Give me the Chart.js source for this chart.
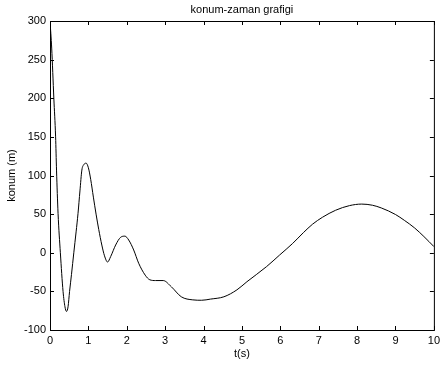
<!DOCTYPE html>
<html>
<head>
<meta charset="utf-8">
<script src="https://cdn.jsdelivr.net/npm/chart.js@4/dist/chart.umd.min.js"></script>
<style>
html,body{margin:0;padding:0;background:#fff;}
#wrap{width:444px;height:369px;}
</style>
</head>
<body>
<div id="wrap"><canvas id="c" width="444" height="369"></canvas></div>
<script>
// konum-zaman values
const tVals=[0,0.044,0.10,0.146,0.17,0.21,0.27,0.34,0.39,0.43,0.47,0.51,0.56,0.62,0.68,0.73,0.78,0.83,0.88,0.94,1.0,1.06,1.13,1.2,1.27,1.35,1.42,1.5,1.58,1.71,1.84,1.95,2.05,2.18,2.31,2.48,2.6,2.75,2.95,3.16,3.42,3.72,3.95,4.18,4.53,4.87,5.13,5.64,5.98,6.32,6.6,6.84,7.1,7.44,7.8,8.12,8.4,8.63,9.0,9.23,9.5,9.74,10];
const konum=[300,265,200,150,107,51,0,-50,-70,-76,-70,-50,-28,0,27,51,80,107,114,116,110,95,72,50,30,10,-4,-12,-5,10,20,21.5,16.5,3.6,-13.6,-29,-35,-36,-36,-44,-57,-61,-61.5,-60,-57,-48,-37.5,-18,-3,12,26,37,46,55,61,63,61.5,58,49.5,42,32,21,8];
const xTicks=[0,1,2,3,4,5,6,7,8,9,10];
const yTicks=[-100,-50,0,50,100,150,200,250,300];

const FONT="Arial, 'Liberation Sans', sans-serif";

// box + inward ticks like the original figure
const boxPlugin={
  id:'box',
  afterDraw(ch){
    const {ctx,chartArea:a,scales:{x,y}}=ch;
    ctx.save();
    ctx.strokeStyle='#000';ctx.lineWidth=1;
    ctx.strokeRect(a.left+0.5,a.top+0.5,a.right-a.left,a.bottom-a.top);
    ctx.beginPath();
    xTicks.forEach(v=>{
      const px=Math.round(x.getPixelForValue(v))+0.5;
      ctx.moveTo(px,a.bottom);ctx.lineTo(px,a.bottom-4);
      ctx.moveTo(px,a.top);ctx.lineTo(px,a.top+4);
    });
    yTicks.forEach(v=>{
      const py=Math.round(y.getPixelForValue(v))+0.5;
      ctx.moveTo(a.left,py);ctx.lineTo(a.left+4,py);
      ctx.moveTo(a.right,py);ctx.lineTo(a.right-4,py);
    });
    ctx.stroke();
    ctx.fillStyle='#000';
    ctx.font='11px '+FONT;
    ctx.textAlign='center';ctx.textBaseline='middle';
    ctx.fillText('konum-zaman grafigi',(a.left+a.right)/2,10);
    ctx.restore();
  }
};

new Chart(document.getElementById('c'),{
  type:'line',
  data:{datasets:[{
    data:tVals.map((t,i)=>({x:t,y:konum[i]})),
    borderColor:'#000',borderWidth:1,pointRadius:0,
    cubicInterpolationMode:'monotone',fill:false
  }]},
  options:{
    responsive:false,animation:false,
    layout:{padding:{left:0,right:4,top:21,bottom:0}},
    plugins:{legend:{display:false},tooltip:{enabled:false}},
    scales:{
      x:{type:'linear',min:0,max:10,
        afterFit:s=>{s.height=39;},
        afterBuildTicks:s=>{s.ticks=xTicks.map(v=>({value:v}));},
        grid:{display:false,drawTicks:false},border:{display:false},
        ticks:{color:'#000',font:{family:FONT,size:11},padding:4,maxRotation:0,autoSkip:false},
        title:{display:true,text:'t(s)',color:'#000',font:{family:FONT,size:11},padding:{top:0,bottom:8}}},
      y:{min:-100,max:300,
        afterFit:s=>{s.width=50;},
        afterBuildTicks:s=>{s.ticks=yTicks.map(v=>({value:v}));},
        grid:{display:false,drawTicks:false},border:{display:false},
        ticks:{color:'#000',font:{family:FONT,size:11},padding:4},
        title:{display:true,text:'konum (m)',color:'#000',font:{family:FONT,size:11},padding:{top:5,bottom:0}}}
    }
  },
  plugins:[boxPlugin]
});
</script>
</body>
</html>
